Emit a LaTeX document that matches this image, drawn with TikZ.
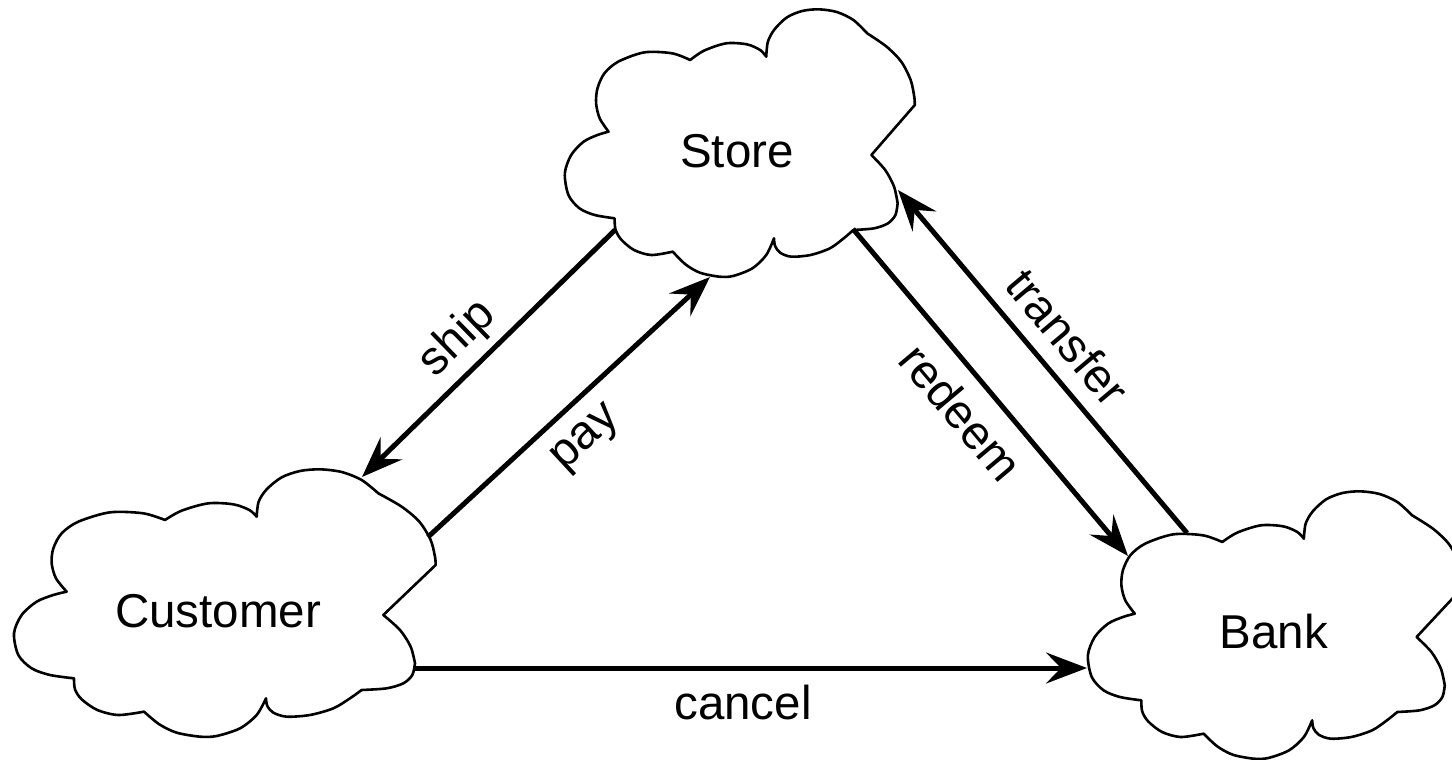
\documentclass[tikz,border=0pt]{standalone}
\usepackage{fontspec}
\setmainfont{Liberation Sans}
\usetikzlibrary{arrows.meta}

% Irregular cloud outline; #1,#2 = left and top of the cloud, #3 = horizontal scale
\newcommand\drawcloud[3]{%
  \begin{scope}[shift={({#1-13*#3},{#2-8})},xscale=#3/3,yscale=1/3]
    \draw[cloudline]
      plot[smooth] coordinates {(200,395) (168,355) (155,310) (160,265) (185,220) (235,185) (330,157) (430,160) (495,180)}
      -- plot[smooth] coordinates {(495,180) (545,152) (625,130) (700,133) (748,150) (770,170)}
      -- plot[smooth] coordinates {(770,170) (776,125) (800,88) (845,52) (900,33) (960,28) (1025,36) (1085,60) (1135,100)}
      -- plot[smooth] coordinates {(1135,100) (1205,140) (1258,185) (1292,240) (1305,290) (1307,315)}
      -- (1150,465)
      -- plot[smooth] coordinates {(1150,465) (1200,510) (1232,560) (1245,610)}
      -- plot[smooth] coordinates {(1245,610) (1237,645) (1210,670) (1160,685) (1085,690)}
      -- plot[smooth] coordinates {(1085,690) (1050,715) (1000,745) (930,765) (860,770) (820,758) (802,738) (798,715)}
      -- plot[smooth] coordinates {(798,715) (770,765) (720,805) (650,828) (600,830) (530,818) (478,793) (432,755)}
      -- plot[smooth] coordinates {(432,755) (355,765) (292,750) (245,718) (225,688) (222,655)}
      -- plot[smooth] coordinates {(222,655) (150,645) (95,625) (55,585) (42,520) (65,465) (110,425) (160,405) (200,395)}
      -- cycle;
  \end{scope}%
}

\begin{document}
\begin{tikzpicture}[
  x=1pt, y=-1pt,
  cloudline/.style={line width=2.6pt, line join=round, fill=white},
  flow/.style={line width=5pt, -{Stealth[length=41pt, width=31pt, inset=15pt]}},
  txt/.style={inner sep=0pt, font=\fontsize{47.5}{57}\selectfont},
]
\useasboundingbox (0,0) rectangle (1452,760);
\clip (0,0) rectangle (1452,760);

% clouds
\drawcloud{564}{8}{0.83}
\drawcloud{13}{468}{1}
\drawcloud{1087}{490}{0.89}

\node[txt, anchor=base] (store) at (737,167) {Store};
\node[txt, anchor=base] (customer) at (218,627) {Customer};
\node[txt, anchor=base] (bank) at (1274,648) {Bank};

% connector end points on the cloud outlines
\coordinate (store-ship) at (615,230);
\coordinate (cust-ship) at (362,477);
\coordinate (cust-pay) at (428,537);
\coordinate (store-pay) at (710,277);
\coordinate (store-redeem) at (853,229);
\coordinate (bank-redeem) at (1128,556);
\coordinate (bank-transfer) at (1187,533);
\coordinate (store-transfer) at (898,190);
\coordinate (cust-cancel) at (413,668);
\coordinate (bank-cancel) at (1087,668);

% messages
\draw[flow] (store-ship) -- (cust-ship);
\draw[flow] (cust-pay) -- (store-pay);
\draw[flow] (store-redeem) -- (bank-redeem);
\draw[flow] (bank-transfer) -- (store-transfer);
\draw[flow] (cust-cancel) -- (bank-cancel);

\node[txt, rotate=44.3] (l-ship) at (458,339) {ship};
\node[txt, rotate=42.7] (l-pay) at (587,440) {pay};
\node[txt, rotate=-50] (l-redeem) at (961,412) {redeem};
\node[txt, rotate=-50] (l-transfer) at (1068,337) {transfer};
\node[txt] (l-cancel) at (743,702.5) {cancel};
\end{tikzpicture}
\end{document}
